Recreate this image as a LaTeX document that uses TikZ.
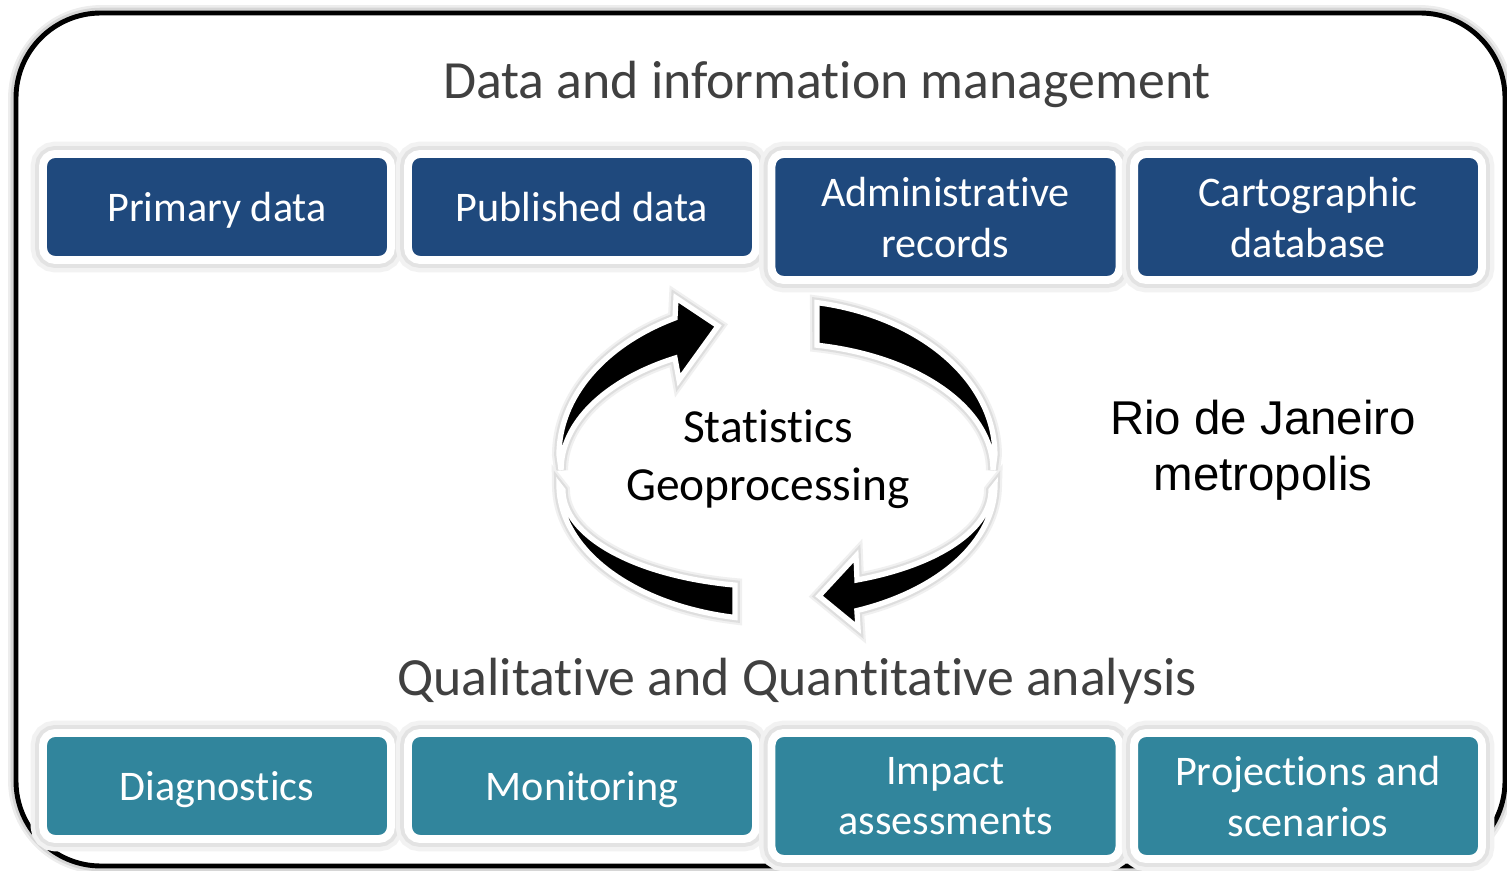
\documentclass[tikz,border=0pt]{standalone}
\usepackage{fontspec}
\setmainfont{Carlito}[Ligatures={NoCommon,NoContextual}]
\newfontfamily\riofont{Liberation Sans}
\usepackage{xcolor}
\usepackage{tikz}

\definecolor{datablue}{HTML}{1F497D}
\definecolor{anateal}{HTML}{31859C}
\definecolor{titlegray}{HTML}{404040}

\tikzset{
  boxglow/.style={preaction={draw=black!5,line width=14pt},preaction={draw=black!11,line width=9pt}},
  arrowglow/.style={preaction={draw=black!6,line width=8pt},preaction={draw=black!13,line width=5.5pt}},
  frameglow/.style={preaction={draw=black!7,line width=9pt},preaction={draw=black!16,line width=6pt}},
  databox/.style={rectangle,rounded corners=0.24cm,fill=datablue,draw=white,line width=4.5pt,
    text=white,align=center,font=\fontsize{24}{29}\selectfont,outer sep=0pt,
    minimum width=6.96cm,minimum height=2.12cm,text depth=0pt,anchor=north,boxglow},
  anabox/.style={databox,fill=anateal},
  twoline/.style={minimum height=2.52cm},
  headline/.style={text=titlegray,font=\fontsize{30.6}{36}\selectfont,anchor=base},
  cyclearrow/.style={fill=black,draw=white,line width=3pt,arrowglow},
}

\begin{document}
\begin{tikzpicture}[x=0.02cm,y=0.02cm]
        \useasboundingbox (0,0) rectangle (1507,-871);
        % frame
        \draw[line width=2.8pt,rounded corners=1.7cm,fill=white,frameglow] (16,-13) rectangle (1505,-866);

        \node[headline] (datatitle) at (827,-99) {Data and information management};
        \node[headline] (anatitle) at (797,-695) {Qualitative and Quantitative analysis};

        \begin{scope}[every node/.style={databox}]
        \node (primary) at (217,-154) {Primary data};
        \node (published) at (582,-154) {Published data};
        \node[twoline] (records) at (945.5,-154) {Administrative\\records};
        \node[twoline] (carto) at (1308,-154) {Cartographic\\database};
        \end{scope}

        \begin{scope}[every node/.style={anabox}]
        \node (diag) at (217,-733) {Diagnostics};
        \node (monit) at (582,-733) {Monitoring};
        \node[twoline] (impact) at (945.5,-733) {Impact\\assessments};
        \node[twoline] (proj) at (1308,-733) {Projections and\\scenarios};
        \end{scope}

        % cycle
        \path[cyclearrow] (559,-455) arc[start angle=180,end angle=117.9,x radius=218,y radius=155]
            -- (676,-298) -- (718,-326) -- (679,-380) -- (675,-358.1)
            arc[start angle=118.2,end angle=180,x radius=216,y radius=127] -- cycle;
        \path[cyclearrow] (817,-302.6) arc[start angle=79.4,end angle=0,x radius=218,y radius=155]
            -- (993,-470) arc[start angle=0,end angle=79.3,x radius=216,y radius=127] -- cycle;
        \path[cyclearrow] (995,-485) arc[start angle=0,end angle=-68.5,x radius=218,y radius=135]
            -- (858,-628) -- (819,-596) -- (856,-556) -- (857,-580)
            arc[start angle=-68.05,end angle=0,x radius=214,y radius=97] -- cycle;
        \path[cyclearrow] (559,-485) arc[start angle=180,end angle=258.9,x radius=218,y radius=135]
            -- (735,-585.1) arc[start angle=258.7,end angle=180,x radius=214,y radius=97] -- cycle;

        \node[align=center,font=\fontsize{27}{33}\selectfont] (stats) at (768,-459) {Statistics\\Geoprocessing};
        \node[align=center,font=\riofont\fontsize{27}{32}\selectfont] (rio) at (1263,-450) {Rio de Janeiro\\metropolis};
\end{tikzpicture}
\end{document}
